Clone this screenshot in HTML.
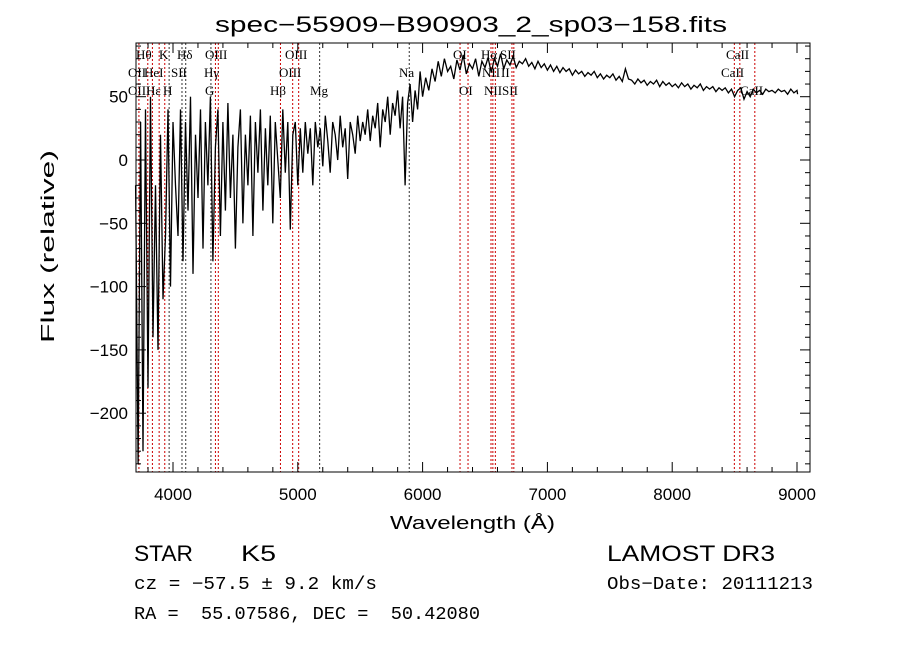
<!DOCTYPE html>
<html><head><meta charset="utf-8"><style>
body{margin:0;background:#fff;}
svg{display:block;font-family:"Liberation Sans",sans-serif;}
.lbl{font-family:"Liberation Serif",serif;font-size:13px;}
text{white-space:pre;}
</style></head><body>
<svg id="chart" width="900" height="649" viewBox="0 0 900 649">
<rect width="900" height="649" fill="#fff"/>
<text x="215" y="32" font-size="22" textLength="512" lengthAdjust="spacingAndGlyphs">spec−55909−B90903_2_sp03−158.fits</text>
<g id="lines"></g>
<g id="ticks"></g>
<path id="spec" fill="none" stroke="#000" stroke-width="1.3"/>
<rect x="136" y="43" width="674" height="429" fill="none" stroke="#000" stroke-width="1"/>
<text x="390" y="529" font-size="18" textLength="165" lengthAdjust="spacingAndGlyphs">Wavelength (Å)</text>
<text transform="translate(54,343) rotate(-90)" font-size="18" textLength="193" lengthAdjust="spacingAndGlyphs">Flux (relative)</text>
<text x="134" y="561" font-size="22" textLength="59" lengthAdjust="spacingAndGlyphs">STAR</text>
<text x="241" y="561" font-size="22" textLength="35" lengthAdjust="spacingAndGlyphs">K5</text>
<text x="607" y="561" font-size="22" textLength="168" lengthAdjust="spacingAndGlyphs">LAMOST DR3</text>
<text x="134" y="589" font-size="18" font-family="Liberation Mono,monospace" textLength="243" lengthAdjust="spacingAndGlyphs">cz = −57.5 ± 9.2 km/s</text>
<text x="607" y="589" font-size="18" font-family="Liberation Mono,monospace" textLength="206" lengthAdjust="spacingAndGlyphs">Obs−Date: 20111213</text>
<text x="134" y="619" font-size="18" font-family="Liberation Mono,monospace" textLength="346" lengthAdjust="spacingAndGlyphs">RA =  55.07586, DEC =  50.42080</text>
</svg>
<script>
const wlDense=[];for(let w=3700;w<=6000;w+=20)wlDense.push(w);
const fluxDense=[-20,-240,30,-230,40,-180,50,-140,-20,-150,20,-110,-60,40,-100,30,-20,
-60,40,-80,30,-40,50,-90,20,-30,40,-70,30,-20,50,-80,10,40,-60,30,-40,45,-30,20,-70,10,
40,-50,20,-20,35,-60,30,-10,40,-40,25,-20,35,-50,30,0,-30,40,-10,30,-55,20,30,-20,25,
-10,30,5,25,-20,30,10,25,-5,35,15,-10,30,20,0,35,10,25,-15,30,20,5,35,15,30,
20,40,15,35,25,45,10,40,30,50,20,45,35,55,25,50,-20,45,60,30,55,40,70,50,65];
const wlRed=[];for(let w=6025;w<=9000;w+=25)wlRed.push(w);
const fluxRed=[55,72,62,78,66,80,70,74,64,79,71,83,68,76,72,80,66,78,73,81,
69,80,74,84,72,79,75,82,73,78,76,80,74,77,72,78,73,76,71,75,
70,74,69,73,70,72,67,71,68,70,66,69,67,70,65,68,64,67,65,68,
63,66,62,72,64,63,60,64,61,63,59,62,60,63,58,62,59,61,58,60,
57,61,58,60,56,59,57,60,55,58,56,58,54,57,55,57,53,56,50,55,
57,48,54,50,56,53,55,52,56,54,55,53,56,54,55,52,56,53,55,52];
const lineWl=[3727,3798,3835,3889,3934,3969,4072,4102,4304,4340,4363,4861,4959,5007,5175,5893,6300,6364,6548,6563,6583,6716,6731,8498,8542,8662];
const lineDark=[0,0,0,0,0,1,1,1,1,0,0,0,0,0,1,1,0,0,0,0,0,0,0,0,0,0];
const lineLabels=[["Hθ",136,59],["K",159,59],["Hδ",177,59],["OIII",205,59],["OIII",285,59],["OII",128,77],["HeI",144,77],["SII",171,77],["Hγ",204,77],["OIII",279,77],["Na",399,77],["OIII",128,95],["Hε",146,95],["H",163,95],["G",205,95],["Hβ",270,95],["Mg",310,95],["OI",453,59],["Hα",481,59],["SII",500,59],["CaII",726,59],["NII",482,77],["II",501,77],["CaII",721,77],["OI",459,95],["NIISII",484,95],["CaII",740,95]];
const xTicks=[4000,5000,6000,7000,8000,9000];
const yTicks=[50,0,-50,-100,-150,-200];
const X=w=>173+(w-4000)*0.1248;
const Y=f=>160-f*1.266;
const NS="http://www.w3.org/2000/svg";
function mk(t,a,p){const e=document.createElementNS(NS,t);for(const k in a)e.setAttribute(k,a[k]);p.appendChild(e);return e;}
const lines=document.getElementById('lines'),ticks=document.getElementById('ticks');
lineWl.forEach((w,i)=>{const l=mk('line',{x1:X(w),x2:X(w),y1:43,y2:472,stroke:lineDark[i]?'#333':'#c00','stroke-width':1,'stroke-dasharray':'2,2'},lines);

});
lineLabels.forEach(d=>{const t=mk('text',{x:d[1],y:d[2],class:'lbl'},lines);t.textContent=d[0];

});
for(let w=3800;w<=9100;w+=200){const maj=w%1000===0;
mk('line',{x1:X(w),x2:X(w),y1:472,y2:472-(maj?10:5),stroke:'#000'},ticks);
mk('line',{x1:X(w),x2:X(w),y1:43,y2:43+(maj?10:5),stroke:'#000'},ticks);}
for(let f=-240;f<=90;f+=10){const maj=f%50===0;
mk('line',{x1:136,x2:136+(maj?10:5),y1:Y(f),y2:Y(f),stroke:'#000'},ticks);
mk('line',{x1:810,x2:810-(maj?10:5),y1:Y(f),y2:Y(f),stroke:'#000'},ticks);}
xTicks.forEach(w=>{const t=mk('text',{x:X(w),y:500,'font-size':17,'text-anchor':'middle'},ticks);t.textContent=w;

});
yTicks.forEach(f=>{const t=mk('text',{x:128,y:Y(f)+6,'font-size':17,'text-anchor':'end'},ticks);t.textContent=String(f).replace('-','−');

});
const wl=wlDense.concat(wlRed,[9005]),fl=fluxDense.concat(fluxRed,[0]);
let d='';wl.forEach((w,i)=>{d+=(i?'L':'M')+X(w).toFixed(1)+','+Math.max(43,Math.min(472,Y(fl[i]))).toFixed(1);});
document.getElementById('spec').setAttribute('d',d);
</script>
</body></html>
